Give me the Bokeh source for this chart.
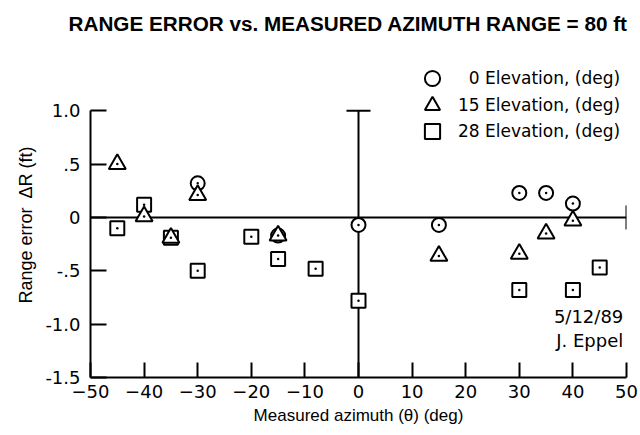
from bokeh.plotting import figure
from bokeh.models import (ColumnDataSource, FixedTicker, Legend, LegendItem, Label,
                          Whisker, TeeHead)
from bokeh.embed import file_html
from bokeh.resources import INLINE

# ---------------- data ----------------
title_text = "RANGE ERROR vs. MEASURED AZIMUTH RANGE = 80 ft"
x_label = "Measured azimuth (\u03b8) (deg)"
y_label = "Range error\u2002\u0394R (ft)\u2007\u2007\u2007"

x_ticks = [-50, -40, -30, -20, -10, 0, 10, 20, 30, 40, 50]
y_ticks = [-1.5, -1.0, -0.5, 0.0, 0.5, 1.0]
y_tick_labels = ["-1.5", "-1.0", "-.5", "0", ".5", "1.0"]

elev0_az = [-30, -15, 0, 15, 30, 35, 40]
elev0_err = [0.32, -0.17, -0.07, -0.07, 0.23, 0.23, 0.13]

elev15_az = [-45, -40, -35, -30, -15, 15, 30, 35, 40]
elev15_err = [0.50, 0.01, -0.19, 0.21, -0.17, -0.36, -0.34, -0.15, -0.03]

elev28_az = [-45, -40, -35, -30, -20, -15, -8, 0, 30, 40, 45]
elev28_err = [-0.10, 0.12, -0.19, -0.50, -0.18, -0.39, -0.48, -0.78, -0.68, -0.68, -0.47]

legend_labels = ["\u20070 Elevation, (deg)", "15 Elevation, (deg)", "28 Elevation, (deg)"]
note_lines = ["5/12/89", "J. Eppel"]

X_MIN, X_MAX = -50, 50
Y_MIN, Y_MAX = -1.5, 1.0      # axis extent
Y_VIEW_TOP = 1.64             # room above the axis for the key

FONT = "Liberation Sans"
FONT2 = "DejaVu Sans"

# ---------------- figure ----------------
p = figure(width=640, height=435, x_range=(X_MIN, X_MAX), y_range=(Y_MIN, Y_VIEW_TOP),
           output_backend="svg", toolbar_location=None,
           min_border_left=90, min_border_right=14, min_border_top=42, min_border_bottom=58)

p.grid.visible = False
p.outline_line_color = None
p.background_fill_color = "white"
p.border_fill_color = "white"

p.title.text = title_text
p.title.text_font = FONT
p.title.text_font_size = "20.7px"
p.title.text_font_style = "bold"
p.title.text_color = "black"
p.title.align = "left"
p.title.offset = -22
p.title.standoff = 16

for ax in (p.xaxis[0], p.yaxis[0]):
    ax.axis_line_width = 2
    ax.axis_line_color = "black"
    ax.major_tick_line_width = 2
    ax.major_tick_line_color = "black"
    ax.major_tick_out = 0
    ax.minor_tick_line_color = None
    ax.major_label_text_font = FONT2
    ax.major_label_text_font_size = "18px"
    ax.major_label_text_color = "black"
    ax.axis_label_text_font = FONT
    ax.axis_label_text_font_style = "normal"
    ax.axis_label_text_color = "black"

p.xaxis.ticker = FixedTicker(ticks=x_ticks)
p.xaxis.major_tick_in = 15
p.xaxis.major_label_standoff = 7
p.xaxis.axis_label = x_label
p.xaxis.axis_label_text_font_size = "17px"
p.xaxis.axis_label_standoff = 5

p.yaxis.ticker = FixedTicker(ticks=y_ticks)
p.yaxis.bounds = (Y_MIN, Y_MAX)
p.yaxis.major_label_overrides = {t: l for t, l in zip(y_ticks, y_tick_labels)}
p.yaxis.major_tick_in = 16
p.yaxis.major_label_standoff = 10
p.yaxis.axis_label = y_label
p.yaxis.axis_label_text_font_size = "18px"
p.yaxis.axis_label_standoff = 6

# zero lines with end caps
vsrc = ColumnDataSource(dict(base=[0], lower=[Y_MIN], upper=[Y_MAX]))
p.add_layout(Whisker(source=vsrc, base="base", lower="lower", upper="upper",
                     dimension="height", line_width=2, line_color="black",
                     upper_head=TeeHead(size=24, line_width=2, line_color="black"),
                     lower_head=None))
hsrc = ColumnDataSource(dict(base=[0], lower=[X_MIN], upper=[X_MAX]))
p.add_layout(Whisker(source=hsrc, base="base", lower="lower", upper="upper",
                     dimension="width", line_width=2, line_color="black",
                     upper_head=TeeHead(size=24, line_width=2, line_color="black"),
                     lower_head=None))

# markers (open symbols with a centre dot)
sq = p.scatter(elev28_az, elev28_err, marker="square", size=14, fill_color="white",
               line_color="black", line_width=2)
p.scatter(elev28_az, elev28_err, marker="circle", size=2.5, fill_color="black", line_color=None)
ci = p.scatter(elev0_az, elev0_err, marker="circle", size=14, fill_color="white",
               line_color="black", line_width=2)
p.scatter(elev0_az, elev0_err, marker="circle", size=2.5, fill_color="black", line_color=None)
tr = p.scatter(elev15_az, elev15_err, marker="triangle", size=17, fill_color="white",
               line_color="black", line_width=2)
p.scatter(elev15_az, elev15_err, marker="circle", size=2.5, fill_color="black", line_color=None)

# key: one single-entry legend per row so the rows can sit close together
for lbl, rend, vy in zip(legend_labels, [ci, tr, sq], [280, 253, 227]):
    p.add_layout(Legend(items=[LegendItem(label=lbl, renderers=[rend])],
                        location=(323, vy), orientation="vertical",
                        glyph_height=38, glyph_width=38, label_height=38, spacing=0,
                        padding=0, margin=0, label_standoff=7,
                        border_line_alpha=0, background_fill_alpha=0,
                        label_text_font=FONT2, label_text_font_size="17px",
                        label_text_color="black"))

p.add_layout(Label(x=X_MAX - 0.6, y=-0.93, text=note_lines[0], text_align="right",
                   text_baseline="middle", text_font=FONT2, text_font_size="18px",
                   text_color="black"))
p.add_layout(Label(x=X_MAX - 0.6, y=-1.15, text=note_lines[1], text_align="right",
                   text_baseline="middle", text_font=FONT2, text_font_size="18px",
                   text_color="black"))

open("out.html", "w").write(file_html(p, INLINE))
